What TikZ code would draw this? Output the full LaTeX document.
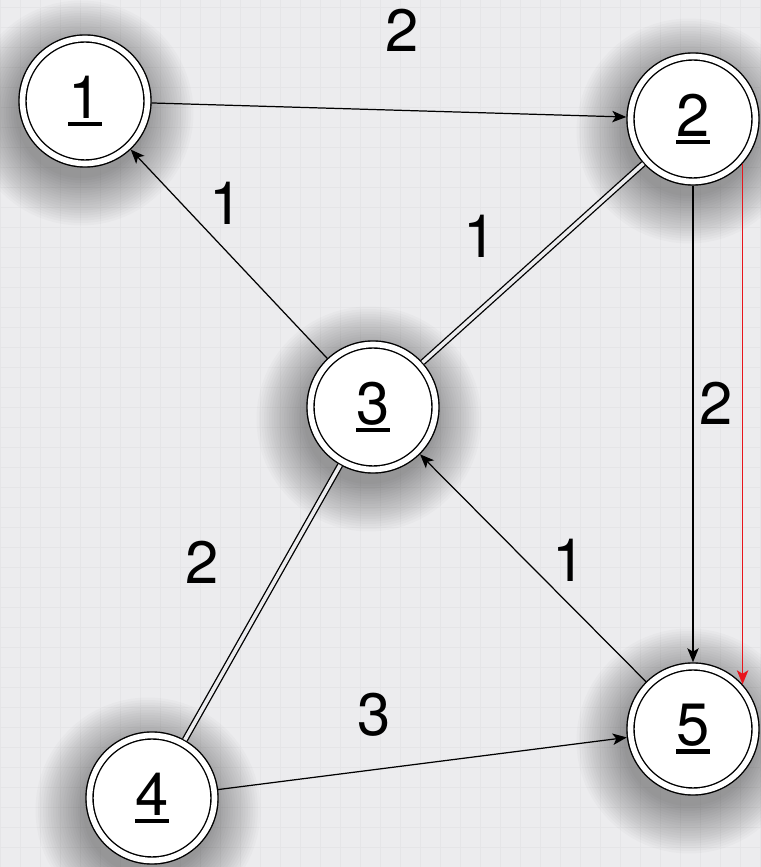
\documentclass[tikz,border=0pt]{standalone}
\usepackage{fontspec}
\setmainfont{TeX Gyre Heros}
\usetikzlibrary{arrows.meta,backgrounds}
\definecolor{canvas}  {HTML}{ECECEE}
\definecolor{gridline}{HTML}{E5E5E7}
\definecolor{arcred}  {HTML}{E8141B}
\newcommand{\ulnum}[1]{\setbox0\hbox{#1}\rlap{\rule[-0.13em]{\wd0}{0.07em}}\box0}
\tikzset{
  vertex/.style  ={circle, draw=black, line width=0.8pt, double=white,
                   double distance=3.2pt, fill=white, minimum size=2.5cm,
                   inner sep=0pt, outer sep=2.4pt,
                   font=\fontsize{34}{40}\selectfont},
  edgelab/.style ={inner sep=0pt, font=\fontsize{34}{40}\selectfont},
  edgearr/.style ={-{Stealth[length=8pt,width=6.5pt,inset=2pt]}, line width=0.7pt},
  redarr/.style  ={edgearr, draw=arcred, fill=arcred},
  dbledge/.style ={line width=0.75pt, double=canvas, double distance=2.1pt},
}
\begin{document}
\begin{tikzpicture}[x=1cm,y=1cm]
    % vertices
    \node[vertex] (n1) at ( 1.70,15.32) {\ulnum{1}};
    \node[vertex] (n2) at (13.86,14.96) {\ulnum{2}};
    \node[vertex] (n3) at ( 7.46, 9.20) {\ulnum{3}};
    \node[vertex] (n4) at ( 3.04, 1.38) {\ulnum{4}};
    \node[vertex] (n5) at (13.86, 2.76) {\ulnum{5}};

    % arcs
    \draw[edgearr] (n1) -- (n2);
    \draw[edgearr] (n3) -- (n1);
    \draw[dbledge] (n3) -- (n2);
    \draw[edgearr] (n2) -- (n5);
    \draw[redarr]  (n2.-42) -- (n5.42);
    \draw[edgearr] (n5) -- (n3);
    \draw[dbledge] (n3) -- (n4);
    \draw[edgearr] (n4) -- (n5);

    % weights
    \node[edgelab] (w12) at ( 8.04,16.74) {2};
    \node[edgelab] (w31) at ( 4.52,13.28) {1};
    \node[edgelab] (w32) at ( 9.60,12.62) {1};
    \node[edgelab] (w25) at (14.32, 9.28) {2};
    \node[edgelab] (w34) at ( 4.04, 6.10) {2};
    \node[edgelab] (w53) at (11.38, 6.14) {1};
    \node[edgelab] (w45) at ( 7.48, 3.04) {3};

    % canvas, grid and shadows
    \begin{scope}[on background layer]
      \clip (0,0) rectangle (15.22,17.34);
      \fill[canvas] (0,0) rectangle (15.22,17.34);
      \draw[gridline,line width=0.3pt,step=0.4] (0,0) grid (15.22,17.34);
      \foreach \v in {n1,n2,n3,n4,n5}
        \foreach \r in {1.30,1.35,...,2.3}
          \fill[black,opacity=0.02] ([shift={(-0.08,-0.24)}]\v.center) circle (\r);
    \end{scope}
\end{tikzpicture}
\end{document}
